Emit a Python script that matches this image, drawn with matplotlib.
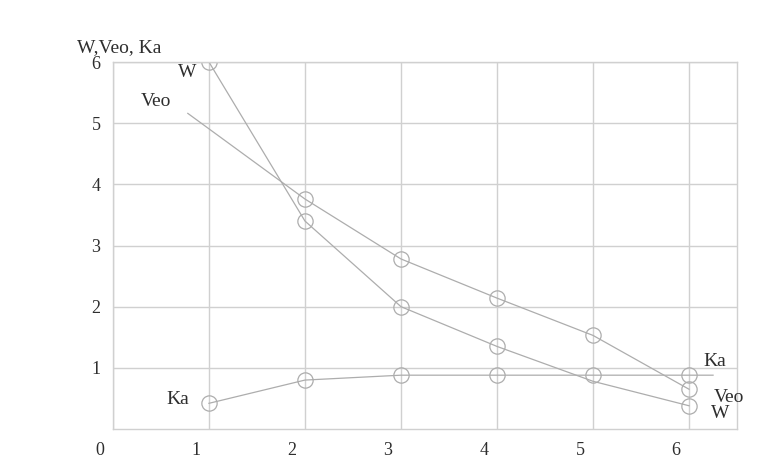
import matplotlib.pyplot as plt
import matplotlib.transforms as mtransforms

# values
w_x = [1, 2, 3, 4, 5, 6]
w_y = [6.0, 3.4, 2.0, 1.35, 0.78, 0.38]
w_marks = [0, 1, 2, 3, 5]

veo_x = [0.78, 2, 3, 4, 5, 6]
veo_y = [5.16, 3.76, 2.78, 2.14, 1.53, 0.65]
veo_marks = [1, 2, 3, 4, 5]

ka_x = [1, 2, 3, 4, 5, 6, 6.25]
ka_y = [0.42, 0.80, 0.88, 0.88, 0.88, 0.88, 0.88]
ka_marks = [0, 1, 2, 3, 4, 5]

x_ticks = [0, 1, 2, 3, 4, 5, 6]
y_ticks = [1, 2, 3, 4, 5, 6]

plt.rcParams['font.family'] = ['Liberation Serif', 'DejaVu Serif']

line_col = '#adadad'
grid_col = '#d0d0d0'
text_col = '#2e2e2e'

fig = plt.figure(figsize=(7.63, 4.61), dpi=100)
ax = fig.add_axes([0.148, 0.0694, 0.818, 0.7961])

style = dict(color=line_col, lw=0.9, marker='o', markersize=11,
             markerfacecolor='none', markeredgecolor=line_col, markeredgewidth=0.9)
ax.plot(w_x, w_y, markevery=w_marks, **style)
ax.plot(veo_x, veo_y, markevery=veo_marks, **style)
ax.plot(ka_x, ka_y, markevery=ka_marks, **style)

ax.set_xlim(0, 6.5)
ax.set_ylim(0, 6)
ax.set_xticks(x_ticks)
ax.set_yticks(y_ticks)
ax.grid(True, color=grid_col, lw=1.0)
ax.set_axisbelow(True)
for sp in ax.spines.values():
    sp.set_color(grid_col)
    sp.set_linewidth(1.0)
ax.tick_params(length=0, labelsize=13, colors=text_col, pad=9)

# x labels sit a bit to the left of their grid lines
shift = mtransforms.ScaledTranslation(-0.13, 0, fig.dpi_scale_trans)
for lab in ax.get_xticklabels():
    lab.set_transform(lab.get_transform() + shift)

# series labels
tk = dict(fontsize=14, color=text_col, ha='center', va='center', clip_on=False)
ax.text(0.07, 6.24, 'W,Veo, Ka', **tk)
ax.text(0.77, 5.83, 'W', **tk)
ax.text(0.45, 5.35, 'Veo', **tk)
ax.text(0.68, 0.49, 'Ka', **tk)
ax.text(6.27, 1.1, 'Ka', **tk)
ax.text(6.42, 0.52, 'Veo', **tk)
ax.text(6.32, 0.26, 'W', **tk)

fig.savefig('out.png', dpi=100)
